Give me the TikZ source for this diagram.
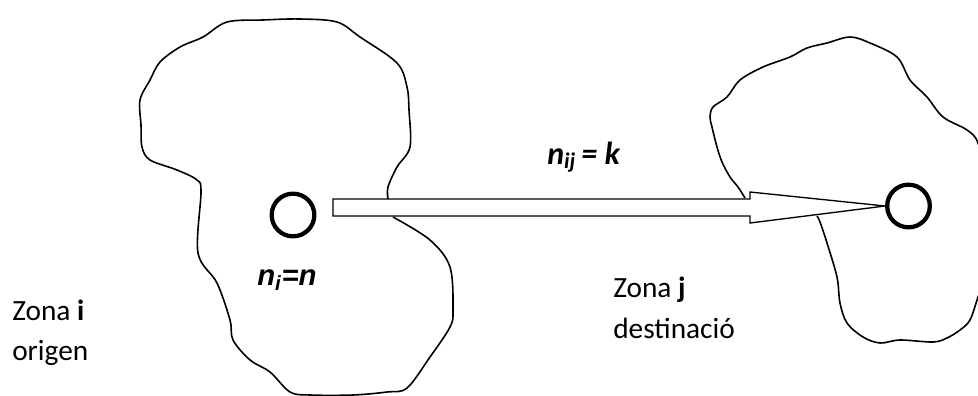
\documentclass[tikz,border=0pt]{standalone}
\usepackage{fontspec}
\setmainfont{Carlito}
\newfontfamily\arialfont{Liberation Sans}
\usepackage{tikz}
\usetikzlibrary{calc}

\begin{document}
\begin{tikzpicture}[
  x=0.75pt, y=-0.75pt,
  zone/.style={line width=1.2pt, line join=round},
  cnode/.style={circle, draw, line width=3.2pt, minimum size=32pt, inner sep=0pt},
  flow/.style={draw, fill=white, line width=1pt, line join=miter},
  txt/.style={font=\fontsize{22}{26}\selectfont, anchor=base west, inner sep=0pt},
  var/.style={font=\fontsize{24}{28}\selectfont\bfseries\itshape, anchor=base west, inner sep=0pt},
]
\path[use as bounding box, clip] (0,0) rectangle (978,396);

% Zona i (origen)
\draw[zone] plot[smooth, tension=0.55] coordinates {
  (388,199) (388,187) (397,167) (410,147) (409,110) (407,87) (397,63)
  (360,37) (337,22) (300,19) (263,20) (227,22) (203,37) (180,47)
  (160,62) (150,80) (140,100) (141,125) (142,147) (150,160) (177,170)
  (197,180) (201,192) (198,253) (217,283) (230,320) (233,340) (250,360)
  (270,372) (290,392) (310,395) (353,395) (387,392) (407,388) (430,357)
  (450,327) (453,310) (450,267) (430,240) (393,217)};

% Zona j (destinacio)
\draw[zone] plot[smooth, tension=0.55] coordinates {
  (745,198) (738,187) (730,177) (722,162) (717,147) (712,127) (710,117)
  (713,107) (727,97) (740,80) (763,67) (790,57) (807,48) (827,43)
  (850,37) (870,43) (897,57) (910,80) (927,97) (943,117) (967,130)
  (978,143) (986,180) (988,230) (984,280) (978,297) (970,320) (960,330)
  (947,338) (933,342) (900,340) (880,343) (863,337) (847,323) (840,303)
  (837,277) (827,243) (820,222) (817,216)};

% nodes
\node[cnode] (ci) at (293,215) {};
\node[cnode] (cj) at (908.5,206) {};
\coordinate (tail) at (333,207.5);

% flux i -> j
\draw[flow] ($(tail)+(0,-8.5)$) -- ($(cj.west)+(-135,-7)$)
  -- ($(cj.west)+(-135,-14)$) -- (cj.west)
  -- ($(cj.west)+(-135,17)$) -- ($(cj.west)+(-135,10)$)
  -- ($(tail)+(0,8.5)$) -- cycle;

% labels
\node[var] (nij) at (547,164) {n\textsubscript{ij}\,= k};
\node[anchor=base west, inner sep=0pt, font=\arialfont\fontsize{22}{26}\selectfont\bfseries\itshape] (ni) at (257,285) {n\textsubscript{i}=n};
\node[txt] (zi) at (12,320) {Zona \textbf{i}};
\node[txt] (zio) at (12,360) {origen};
\node[txt] (zj) at (613,297) {Zona \textbf{j}};
\node[txt] (zjd) at (613,338) {destinació};
\end{tikzpicture}
\end{document}
